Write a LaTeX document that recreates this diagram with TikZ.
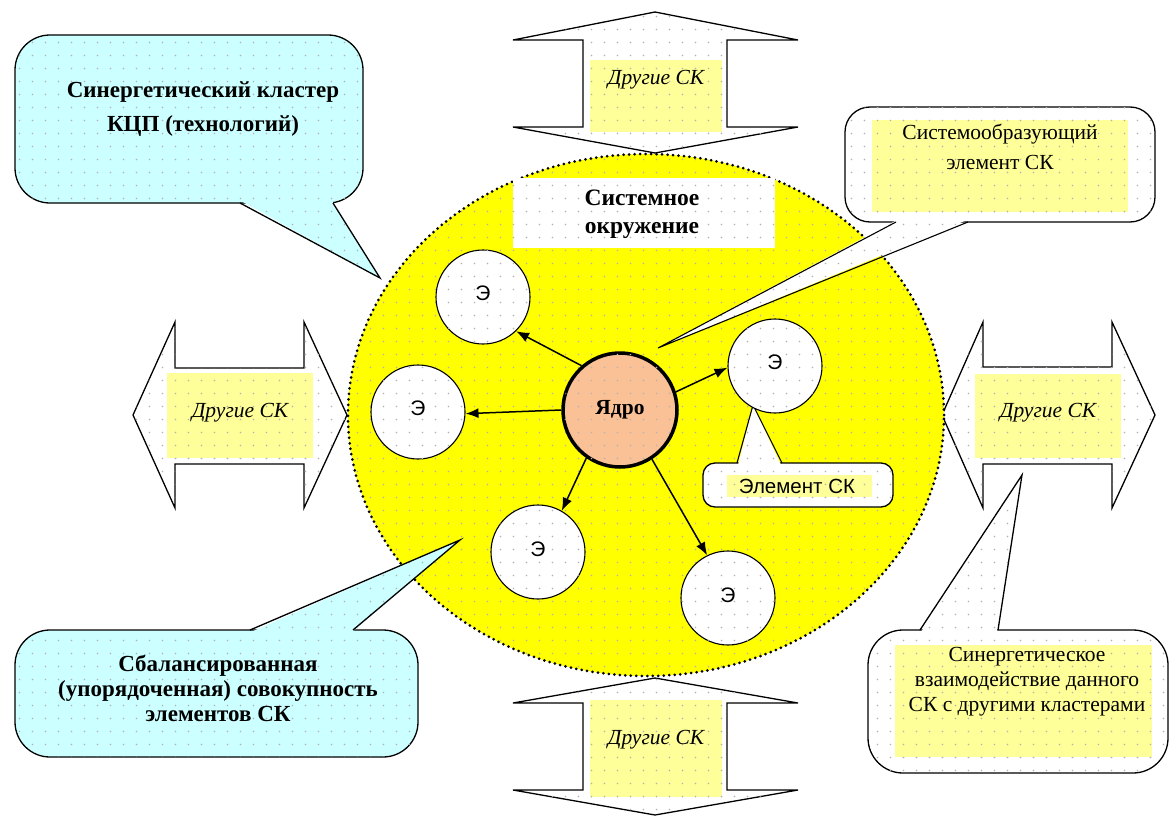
\documentclass[tikz,border=0pt]{standalone}
\usepackage{fontspec}
\setmainfont{Liberation Serif}
\newfontfamily\sansf{Liberation Sans}
\usetikzlibrary{arrows.meta,patterns}

% sparse grey dot texture used on every filled shape
\pgfdeclarepatternformonly{sparsedots}{\pgfqpoint{-1pt}{-1pt}}{\pgfqpoint{14pt}{14pt}}{\pgfqpoint{13pt}{13pt}}%
  {\pgfpathcircle{\pgfqpoint{6.5pt}{6.5pt}}{0.8pt}\pgfusepath{fill}}

\definecolor{cyanfill}{RGB}{204,255,255}
\definecolor{envyellow}{RGB}{255,255,0}
\definecolor{paleyellow}{RGB}{255,255,153}
\definecolor{corefill}{RGB}{250,192,150}

\begin{document}
\begin{tikzpicture}[x=1pt,y=-1pt,
  dotfill/.style={postaction={pattern=sparsedots,pattern color=black!30}},
  outline/.style={draw=black,line width=1.3pt,line join=miter},
  boldtext/.style={font=\fontsize{23pt}{25pt}\selectfont\bfseries,align=center,inner sep=0pt},
  regtext/.style={font=\fontsize{21.5pt}{25pt}\selectfont,align=center,inner sep=0pt},
  othertext/.style={font=\fontsize{21.5pt}{24pt}\selectfont\itshape,inner sep=0pt},
  elem/.style={circle,draw=black,line width=1.1pt,fill=white,dotfill,minimum size=94pt,inner sep=0pt,
    font=\sansf\fontsize{21pt}{24pt}\selectfont},
  corenode/.style={circle,draw=black,line width=3.5pt,fill=corefill,dotfill,minimum size=114pt,inner sep=0pt,
    font=\fontsize{21.5pt}{24pt}\selectfont\bfseries},
  link/.style={draw=black,line width=1.5pt,-{Latex[length=13pt,width=10pt]}}
]
\useasboundingbox (0,0) rectangle (1172,816);
\fill[white] (0,0) rectangle (1172,816);

% ---- double arrows "other clusters" ----
\path[outline,fill=white,dotfill]
  (655,12) -- (798,40) -- (727,40) -- (727,127) -- (798,127) -- (655,153)
  -- (513,127) -- (583,127) -- (583,40) -- (513,40) -- cycle;
\path[outline,fill=white,dotfill]
  (655,678) -- (798,703) -- (727,703) -- (727,790) -- (798,790) -- (655,815)
  -- (513,790) -- (583,790) -- (583,703) -- (513,703) -- cycle;
\path[outline,fill=white,dotfill]
  (133,415) -- (175,322) -- (175,368) -- (304,368) -- (304,322) -- (347,415)
  -- (304,508) -- (304,464) -- (175,464) -- (175,508) -- cycle;
\path[outline,fill=white,dotfill]
  (942,415) -- (983,322) -- (983,367) -- (1112,367) -- (1112,322) -- (1155,415)
  -- (1112,508) -- (1112,464) -- (983,464) -- (983,508) -- cycle;

\fill[paleyellow,dotfill] (590,60) rectangle (722,132);
\fill[paleyellow,dotfill] (590,700) rectangle (722,797);
\fill[paleyellow,dotfill] (167,373) rectangle (313,458);
\fill[paleyellow,dotfill] (975,374) rectangle (1121,458);
\node[othertext] (otop) at (656,80) {Другие СК};
\node[othertext] (obottom) at (656,740) {Другие СК};
\node[othertext] (oleft) at (240,413) {Другие СК};
\node[othertext] (oright) at (1048,413) {Другие СК};

% ---- system environment ----
\fill[envyellow,dotfill] (646,415) ellipse [x radius=298pt, y radius=261pt];
\draw[black,line width=3pt,dash pattern=on 0pt off 5.5pt,line cap=round]
  (646,415) ellipse [x radius=298pt, y radius=261pt];
\fill[white,dotfill] (513,178) rectangle (775,248);
\node[boldtext,font=\fontsize{23.5pt}{28pt}\selectfont\bfseries] (env) at (642,214) {Системное\\окружение};

% ---- callout: cluster (top left) ----
\path[outline,fill=cyanfill,dotfill,rounded corners=35pt] (15,35) rectangle (363,203);
\fill[cyanfill,dotfill] (241,201) -- (380,278) -- (332,201) -- cycle;
\draw[outline] (240,203) -- (380,278) -- (333,203);
\node[boldtext,font=\fontsize{23pt}{34pt}\selectfont\bfseries] (cluster) at (203,109)
  {Синергетический кластер\\КЦП (технологий)};

% ---- callout: balanced set (bottom left) ----
\path[outline,fill=cyanfill,dotfill,rounded corners=35pt] (15,630) rectangle (418,757);
\fill[cyanfill,dotfill] (251,632) -- (460,540) -- (352,632) -- cycle;
\draw[outline] (250,630) -- (460,540) -- (353,630);
\node[boldtext] (balanced) at (218,688)
  {Сбалансированная\\(упорядоченная) совокупность\\элементов СК};

% ---- callout: system-forming element (top right) ----
\path[outline,fill=white,dotfill,rounded corners=25pt] (845,107) rectangle (1155,222);
\fill[white,dotfill] (897,220) -- (658,348) -- (967,220) -- cycle;
\draw[outline,line width=1.1pt] (896,222) -- (658,348) -- (968,222);
\fill[paleyellow,dotfill] (872,120) rectangle (1128,212);
\node[regtext,font=\fontsize{21.5pt}{30pt}\selectfont] (sysform) at (1000,147)
  {Системообразующий\\элемент СК};

% ---- callout: synergetic interaction (bottom right) ----
\path[outline,fill=white,dotfill,rounded corners=35pt] (868,630) rectangle (1168,773);
\fill[white,dotfill] (921,632) -- (1022,475) -- (997,632) -- cycle;
\draw[outline] (920,630) -- (1022,475) -- (998,630);
\fill[paleyellow,dotfill] (895,645) rectangle (1152,757);
\node[regtext] (synergy) at (1027,682)
  {Синергетическое\\взаимодействие данного\\СК с другими кластерами};

% ---- callout: cluster element ----
\path[outline,fill=white,dotfill,rounded corners=12pt] (703,463) rectangle (893,507);
\fill[white,dotfill] (738,465) -- (753,405) -- (781,465) -- cycle;
\draw[outline,line width=1.1pt] (737,463) -- (753,405) -- (782,463);
\fill[paleyellow,dotfill] (727,475) rectangle (872,497);
\node[inner sep=0pt,font=\sansf\fontsize{20.5pt}{22pt}\selectfont] (elemlabel) at (797,486) {Элемент СК};

% ---- elements and core ----
\node[elem] (e1) at (483,297) {\raisebox{8pt}{Э}};
\node[elem] (e2) at (418,412) {\raisebox{8pt}{Э}};
\node[elem] (e3) at (775,366) {\raisebox{8pt}{Э}};
\node[elem] (e4) at (538,552) {\raisebox{6pt}{Э}};
\node[elem] (e5) at (728,598) {\raisebox{6pt}{Э}};
\node[corenode] (core) at (620,410) {Ядро};

\draw[link] (core.131) -- (e1.-46);
\draw[link] (core.180) -- (e2.-2);
\draw[link] (core.18) -- (e3.182);
\draw[link] (core.235) -- (e4.60);
\draw[link] (core.-57) -- (e5.116);
\end{tikzpicture}
\end{document}
